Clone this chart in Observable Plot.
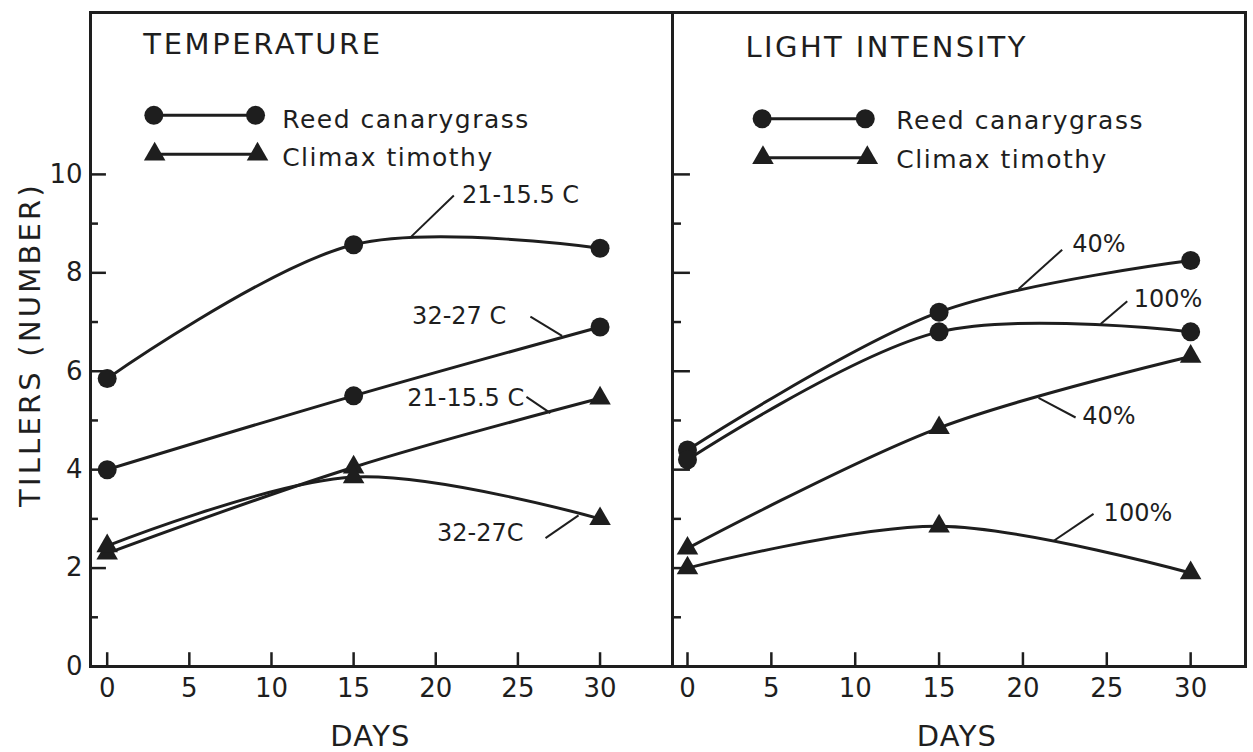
<!DOCTYPE html>
<html><head><meta charset="utf-8">
<script src="https://cdn.jsdelivr.net/npm/d3@7"></script>
<script src="https://cdn.jsdelivr.net/npm/@observablehq/plot@0.6"></script>
<style>
html,body{margin:0;padding:0;background:#fff;}
#chart{position:relative;width:1253px;height:752px;overflow:hidden;background:#fff;}
#chart svg{position:absolute;top:0;}
</style></head><body><div id="chart"></div>
<script>
// ---- data ----
const days = [0, 15, 30];
// Temperature panel (tillers, number)
const reedTemp21 = [5.85, 8.57, 8.5];
const reedTemp32 = [4.0, 5.5, 6.9];
const timTemp21 = [2.3, 4.05, 5.45];
const timTemp32 = [2.45, 3.85, 3.0];
// Light intensity panel
const reedLight40 = [4.4, 7.2, 8.25];
const reedLight100 = [4.2, 6.8, 6.8];
const timLight40 = [2.4, 4.85, 6.3];
const timLight100 = [2.0, 2.85, 1.9];

const xTicks = [0, 5, 10, 15, 20, 25, 30];
const yTickLabels = [0, 2, 4, 6, 8, 10];
const yMajor = [2, 4, 6, 8, 10];
const yMinor = [1, 3, 5, 7, 9];
const legendLabels = ["Reed canarygrass", "Climax timothy"];
const panelTitles = ["TEMPERATURE", "LIGHT INTENSITY"];
const tempLabels = ["21-15.5 C", "32-27 C", "21-15.5 C", "32-27C"];
const lightLabels = ["40%", "100%", "40%", "100%"];
const xLabel = "DAYS";
const yLabel = "TILLERS (NUMBER)";

// ---- build tables ----
function series(species, cond, values) {
  return days.map((d, i) => ({species, key: species + cond, day: d, tillers: values[i]}));
}
const tempData = [
  ...series("reed", "21", reedTemp21), ...series("reed", "32", reedTemp32),
  ...series("tim", "21", timTemp21), ...series("tim", "32", timTemp32)
];
const lightData = [
  ...series("reed", "40", reedLight40), ...series("reed", "100", reedLight100),
  ...series("tim", "40", timLight40), ...series("tim", "100", timLight100)
];

// ---- layout (in data units of each panel) ----
const ink = "#1e1e1e";
const FONT = "DejaVu Sans";
const tempAnno = [
  {tx: 21.6, ty: 9.57, x1: 21.1, y1: 9.57, x2: 18.46, y2: 8.72},
  {tx: 18.56, ty: 7.11, x1: 25.76, y1: 7.11, x2: 27.69, y2: 6.72},
  {tx: 18.26, ty: 5.45, x1: 25.52, y1: 5.48, x2: 26.98, y2: 5.15},
  {tx: 20.08, ty: 2.71, x1: 26.68, y1: 2.61, x2: 28.69, y2: 3.07}
].map((d, i) => ({...d, label: tempLabels[i]}));
const lightAnno = [
  {tx: 22.94, ty: 8.58, x1: 22.34, y1: 8.47, x2: 19.74, y2: 7.67},
  {tx: 26.6, ty: 7.46, x1: 26.22, y1: 7.42, x2: 24.63, y2: 6.96},
  {tx: 23.54, ty: 5.09, x1: 23.14, y1: 5.06, x2: 20.93, y2: 5.46},
  {tx: 24.81, ty: 3.12, x1: 24.21, y1: 3.10, x2: 21.82, y2: 2.55}
].map((d, i) => ({...d, label: lightLabels[i]}));

function panel(o) {
  const x0 = o.xDomain[0];
  const legCircle = [{x1: o.leg.x1, x2: o.leg.x2, y: o.leg.y[0], ty: o.leg.ty[0], tx: o.leg.tx, label: legendLabels[0]}];
  const legTri = [{x1: o.leg.x1 + 0.05, x2: o.leg.x2 + 0.12, y: o.leg.y[1], ty: o.leg.ty[1], tx: o.leg.tx, label: legendLabels[1]}];
  const legend = [...legCircle, ...legTri];
  const marks = [
    Plot.frame({stroke: ink, strokeWidth: 3}),
    Plot.ruleX(xTicks, {x: d => d, y1: 0, y2: 0.28, stroke: ink, strokeWidth: 2.5}),
    Plot.ruleY(yMajor, {y: d => d, x1: x0, x2: x0 + o.tick, stroke: ink, strokeWidth: 2.5}),
    Plot.ruleY(yMinor, {y: d => d, x1: x0, x2: x0 + o.tick / 2, stroke: ink, strokeWidth: 2.5}),
    Plot.axisX({ticks: xTicks, tickSize: 0, tickPadding: 12, label: null, fontSize: 26}),
    Plot.line(o.data, {x: "day", y: "tillers", z: "key", curve: "catmull-rom", stroke: ink, strokeWidth: 3}),
    Plot.dot(o.data.filter(d => d.species === "reed"), {x: "day", y: "tillers", r: 9.5, fill: ink, symbol: "circle"}),
    Plot.dot(o.data.filter(d => d.species === "tim"), {x: "day", y: "tillers", r: 8, fill: ink, symbol: "triangle"}),
    Plot.link(o.anno, {x1: "x1", y1: "y1", x2: "x2", y2: "y2", stroke: ink, strokeWidth: 2}),
    Plot.text(o.anno, {x: "tx", y: "ty", text: "label", textAnchor: "start", fontSize: 24, fill: ink}),
    Plot.text([o.title], {x: o.titlePos[0], y: o.titlePos[1], text: d => d, textAnchor: "start", lineAnchor: "middle", fontSize: 29, fill: ink}),
    Plot.link(legend, {x1: "x1", x2: "x2", y1: "y", y2: "y", stroke: ink, strokeWidth: 3}),
    Plot.dot(legCircle, {x: "x1", y: "y", symbol: "circle", r: 9.5, fill: ink}),
    Plot.dot(legCircle, {x: "x2", y: "y", symbol: "circle", r: 9.5, fill: ink}),
    Plot.dot(legTri, {x: "x1", y: "y", symbol: "triangle", r: 8, fill: ink}),
    Plot.dot(legTri, {x: "x2", y: "y", symbol: "triangle", r: 8, fill: ink}),
    Plot.text(legend, {x: "tx", y: "ty", text: "label", textAnchor: "start", lineAnchor: "middle", fontSize: 25, fill: ink}),
    Plot.text([xLabel], {frameAnchor: "bottom", dy: 70, dx: o.xLabelDx, textAnchor: "middle", lineAnchor: "middle", text: d => d, fontSize: 29, fill: ink})
  ];
  if (o.showY) {
    marks.push(Plot.axisY({ticks: yTickLabels, tickSize: 0, tickPadding: 8, label: null, fontSize: 26}));
    marks.push(Plot.text([yLabel], {frameAnchor: "left", dx: -60, dy: 5, rotate: -90, textAnchor: "middle", lineAnchor: "middle", text: d => d, fontSize: 29, fill: ink}));
  }
  const svg = Plot.plot({
    width: o.width, height: 752,
    marginLeft: o.marginLeft, marginRight: o.marginRight, marginTop: 12, marginBottom: 86,
    x: {domain: o.xDomain},
    y: {domain: [0, 13.29], axis: o.showY ? undefined : null},
    style: {background: "transparent", fontFamily: FONT, fontSize: "26px", color: ink, overflow: "visible"},
    marks
  });
  svg.style.left = o.left + "px";
  return svg;
}

const left = panel({
  width: 680, left: 0, marginLeft: 90, marginRight: 8,
  xDomain: [-1.016, 34.41], data: tempData, anno: tempAnno, title: panelTitles[0],
  titlePos: [2.2, 12.64], tick: 0.97, showY: true, xLabelDx: -11,
  leg: {x1: 2.84, x2: 9.03, y: [11.2, 10.41], ty: [11.1, 10.33], tx: 10.65}
});
const right = panel({
  width: 653, left: 600, marginLeft: 72, marginRight: 8,
  xDomain: [-0.894, 33.27], data: lightData, anno: lightAnno, title: panelTitles[1],
  titlePos: [3.46, 12.58], tick: 1.07, showY: false, xLabelDx: -2,
  leg: {x1: 4.45, x2: 10.6, y: [11.13, 10.34], ty: [11.08, 10.3], tx: 12.45}
});
const chart = document.getElementById("chart");
chart.appendChild(left);
chart.appendChild(right);
// wider letter spacing like the lettering-guide originals
const spacing = new Map([[yLabel, 3.2], [panelTitles[0], 2.6], [panelTitles[1], 2.4], [xLabel, 1.2],
  [legendLabels[0], 1.5], [legendLabels[1], 1.5]]);
d3.selectAll("#chart svg text").each(function() {
  const s = spacing.get(this.textContent);
  if (s != null) this.setAttribute("letter-spacing", s);
});
</script></body></html>
